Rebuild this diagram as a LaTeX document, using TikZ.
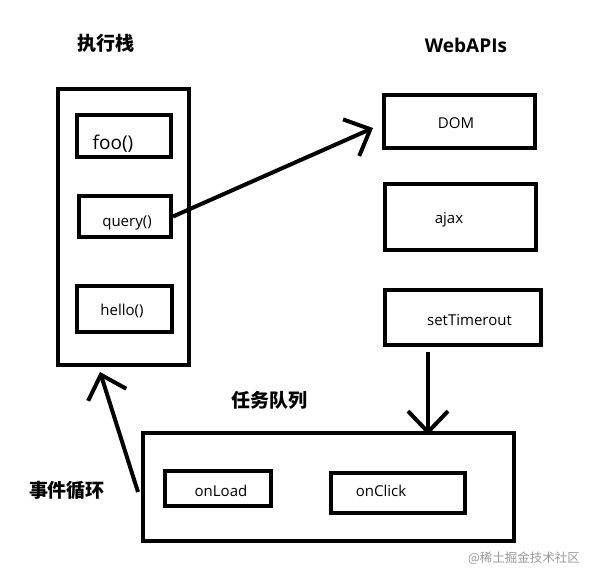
\documentclass[tikz,border=0pt]{standalone}
\usepackage{fontspec}
\setmainfont{Open Sans}
\newfontfamily\cjk{Noto Sans CJK SC}
\usepackage{tikz}
\usetikzlibrary{calc}
\usetikzlibrary{arrows.meta}
\tikzstyle{box}=[draw,line width=4pt,inner sep=0pt]
\tikzstyle{func}=[inner sep=0pt,font=\fontsize{15}{18}\selectfont]
\tikzstyle{title}=[inner sep=0pt,font=\cjk\bfseries\fontsize{19}{22}\selectfont]
\definecolor{wm}{rgb}{0.6,0.6,0.6}

\begin{document}
\begin{tikzpicture}[x=1pt,y=-1pt,>={Straight Barb[length=21pt,width=40pt]},line width=4pt]
	\fill[white] (0,0) rectangle (598,582);
	\useasboundingbox (0,0) rectangle (598,582);

	% execution stack
	\node[title] (stacklabel) at (106,43) {执行栈};
	\node[box,minimum width=131,minimum height=276] (stack) at (123.5,227) {};
	\node[box,minimum width=94,minimum height=42] (foo) at (124,136) {};
	\node[box,minimum width=92,minimum height=41] (query) at (125,216.5) {};
	\node[box,minimum width=95,minimum height=46] (hello) at (124.5,309) {};
	\node[func,font=\fontsize{19}{22}\selectfont] (tfoo) at ($(foo)+(-11,8)$) {foo()};
	\node[func] (tquery) at ($(query)+(2,6.5)$) {query()};
	\node[func] (thello) at ($(hello)+(-2.5,2)$) {hello()};

	% web apis
	\node[title,font=\bfseries\fontsize{19}{22}\selectfont] (apilabel) at (466,45) {WebAPIs};
	\node[box,minimum width=151,minimum height=53] (dom) at (459.5,121.5) {};
	\node[box,minimum width=151,minimum height=66] (ajax) at (460.5,217) {};
	\node[box,minimum width=156,minimum height=55] (sett) at (463,317.5) {};
	\node[func] (tdom) at ($(dom)+(-3.5,2)$) {DOM};
	\node[func] (tajax) at ($(ajax)+(-11.5,3)$) {ajax};
	\node[func] (tsett) at ($(sett)+(6.5,2.5)$) {setTimerout};

	% task queue
	\node[title] (queuelabel) at (269,400) {任务队列};
	\node[box,minimum width=371,minimum height=108] (queue) at (328.5,487) {};
	\node[box,minimum width=106,minimum height=35] (onload) at (218,488.5) {};
	\node[box,minimum width=134,minimum height=40] (onclick) at (398,493) {};
	\node[func] (tonload) at ($(onload)+(3,2.5)$) {onLoad};
	\node[func] (tonclick) at ($(onclick)+(-17,-2.5)$) {onClick};

	\node[title] (looplabel) at (67,490) {事件循环};
	\node[inner sep=0pt,text=wm,font=\cjk\fontsize{12.5}{15}\selectfont] (mark) at (524,558) {@稀土掘金技术社区};

	\path
		(query.east)	edge[->]	($(dom.west)+(-9,6.5)$)
		($(sett.south)+(-35,5)$)	edge[->]	($(queue.north)+(99.5,4)$)
		($(queue.west)+(-3,5)$)	edge[->]	($(stack.south)+(-23.5,5)$);
\end{tikzpicture}
\end{document}
